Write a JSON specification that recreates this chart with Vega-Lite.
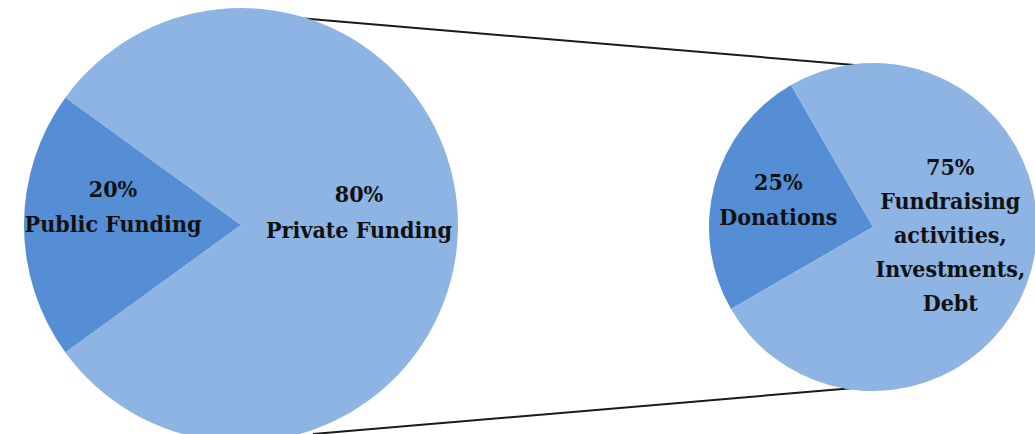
{
  "$schema": "https://vega.github.io/schema/vega-lite/v6.json",
  "width": 1035,
  "height": 434,
  "autosize": "none",
  "padding": 0,
  "background": "white",
  "config": {"view": {"stroke": null}},
  "layer": [
    {
      "data": {"values": [{"connector": "top"}]},
      "mark": {"type": "rule", "color": "#1a1a1a", "strokeWidth": 2},
      "encoding": {
        "x": {"datum": 263, "type": "quantitative", "scale": {"domain": [0, 1035]}, "axis": null},
        "y": {"datum": 15, "type": "quantitative", "scale": {"domain": [0, 434], "reverse": true}, "axis": null},
        "x2": {"datum": 890},
        "y2": {"datum": 68}
      }
    },
    {
      "data": {"values": [{"connector": "bottom"}]},
      "mark": {"type": "rule", "color": "#1a1a1a", "strokeWidth": 2},
      "encoding": {
        "x": {"datum": 313, "type": "quantitative", "scale": {"domain": [0, 1035]}, "axis": null},
        "y": {"datum": 434, "type": "quantitative", "scale": {"domain": [0, 434], "reverse": true}, "axis": null},
        "x2": {"datum": 890},
        "y2": {"datum": 385}
      }
    },
    {
      "data": {"values": [
        {"segment": "Public Funding", "share": 20, "label": "20%\nPublic Funding"},
        {"segment": "Private Funding", "share": 80, "label": "80%\nPrivate Funding"}
      ]},
      "encoding": {
        "x": {"datum": 241, "type": "quantitative", "scale": {"domain": [0, 1035]}, "axis": null},
        "y": {"datum": 225, "type": "quantitative", "scale": {"domain": [0, 434], "reverse": true}, "axis": null},
        "theta": {"field": "share", "type": "quantitative", "stack": true, "scale": {"range": [4.0841, 10.3673]}},
        "order": {"field": "share", "sort": "ascending"}
      },
      "layer": [
        {
          "mark": {"type": "arc", "outerRadius": 217},
          "encoding": {
            "color": {
              "field": "segment", "type": "nominal", "legend": null,
              "scale": {
                "domain": ["Public Funding", "Private Funding", "Donations", "Fundraising activities, Investments, Debt"],
                "range": ["#558ED5", "#8EB4E3", "#558ED5", "#8EB4E3"]
              }
            }
          }
        },
        {
          "mark": {"type": "text", "radius": 128, "dy": -35, "font": "DejaVu Serif Condensed", "fontWeight": "bold", "fontSize": 23, "lineHeight": 35, "lineBreak": "\n", "color": "#111111", "align": "center", "baseline": "middle"},
          "encoding": {"text": {"condition": {"test": "datum.segment === 'Public Funding'", "field": "label"}, "value": ""}}
        },
        {
          "mark": {"type": "text", "radius": 118, "dy": -30, "font": "DejaVu Serif Condensed", "fontWeight": "bold", "fontSize": 23, "lineHeight": 36, "lineBreak": "\n", "color": "#111111", "align": "center", "baseline": "middle"},
          "encoding": {"text": {"condition": {"test": "datum.segment === 'Private Funding'", "field": "label"}, "value": ""}}
        }
      ]
    },
    {
      "data": {"values": [
        {"segment": "Donations", "share": 25, "label": "25%\nDonations"},
        {"segment": "Fundraising activities, Investments, Debt", "share": 75, "label": "75%\nFundraising\nactivities,\nInvestments,\nDebt"}
      ]},
      "encoding": {
        "x": {"datum": 873, "type": "quantitative", "scale": {"domain": [0, 1035]}, "axis": null},
        "y": {"datum": 227, "type": "quantitative", "scale": {"domain": [0, 434], "reverse": true}, "axis": null},
        "theta": {"field": "share", "type": "quantitative", "stack": true, "scale": {"range": [4.1888, 10.472]}},
        "order": {"field": "share", "sort": "ascending"}
      },
      "layer": [
        {
          "mark": {"type": "arc", "outerRadius": 164},
          "encoding": {
            "color": {
              "field": "segment", "type": "nominal", "legend": null,
              "scale": {
                "domain": ["Public Funding", "Private Funding", "Donations", "Fundraising activities, Investments, Debt"],
                "range": ["#558ED5", "#8EB4E3", "#558ED5", "#8EB4E3"]
              }
            }
          }
        },
        {
          "mark": {"type": "text", "radius": 98, "dy": -19, "font": "DejaVu Serif Condensed", "fontWeight": "bold", "fontSize": 23, "lineHeight": 35, "lineBreak": "\n", "color": "#111111", "align": "center", "baseline": "middle"},
          "encoding": {"text": {"condition": {"test": "datum.segment === 'Donations'", "field": "label"}, "value": ""}}
        },
        {
          "mark": {"type": "text", "radius": 80, "dy": -80, "font": "DejaVu Serif Condensed", "fontWeight": "bold", "fontSize": 23, "lineHeight": 34, "lineBreak": "\n", "color": "#111111", "align": "center", "baseline": "middle"},
          "encoding": {"text": {"condition": {"test": "datum.segment !== 'Donations'", "field": "label"}, "value": ""}}
        }
      ]
    }
  ],
  "resolve": {"scale": {"theta": "independent"}}
}
